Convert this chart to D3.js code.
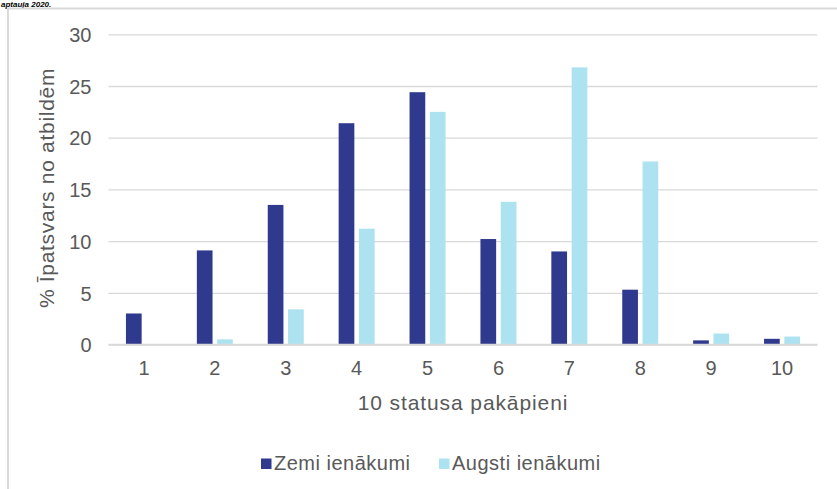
<!DOCTYPE html>
<html>
<head>
<meta charset="utf-8">
<script src="https://cdn.jsdelivr.net/npm/d3@7"></script>
<style>
  html, body { margin: 0; padding: 0; background: #fff; }
  svg { display: block; }
  text { font-family: "Liberation Sans", Arial, sans-serif; }
</style>
</head>
<body>
<svg id="chart" width="837" height="489"></svg>
<script>
const categories = ["1", "2", "3", "4", "5", "6", "7", "8", "9", "10"];
const seriesNames = ["Zemi ienākumi", "Augsti ienākumi"];
const lowIncome  = [3.0, 9.1, 13.5, 21.4, 24.4, 10.2, 9.0, 5.3, 0.4, 0.55];
const highIncome = [0, 0.5, 3.4, 11.2, 22.5, 13.8, 26.8, 17.7, 1.06, 0.77];
const yTicks = [0, 5, 10, 15, 20, 25, 30];
const colors = ["#2F3A8F", "#ADE3F0"];
const titleText = "aptauja 2020.";
const xTitle = "10 statusa pakāpieni";
const yTitle = "% Īpatsvars no atbildēm";

const svg = d3.select("#chart");
const W = 837, H = 489;
const plot = { left: 108.5, right: 817.5, top: 34.3, bottom: 344.5 };

// caption strip at the top (mostly outside the frame in the source)
svg.append("text")
  .attr("x", 1).attr("y", 6.5)
  .attr("font-size", 8).attr("font-style", "italic").attr("font-weight", "bold")
  .attr("fill", "#000")
  .text(titleText);

// chart area border (top & left)
svg.append("path")
  .attr("d", `M8,${H} L8,8.5 L${W},8.5`)
  .attr("fill", "none").attr("stroke", "#d9d9d9").attr("stroke-width", 2);

const x = d3.scaleBand().domain(categories).range([plot.left, plot.right]).padding(0);
const y = d3.scaleLinear().domain([0, 30]).range([plot.bottom, plot.top]);

// gridlines
const yAxis = d3.axisLeft(y).tickValues(yTicks).tickSize(-(plot.right - plot.left)).tickPadding(17).tickFormat(d3.format("d"));
const gy = svg.append("g").attr("transform", `translate(${plot.left},0)`).call(yAxis);
gy.select(".domain").remove();
gy.selectAll(".tick line").attr("stroke", "#d9d9d9").attr("stroke-width", 1.3);
gy.selectAll(".tick text").attr("font-size", 20).attr("fill", "#595959")
  .attr("font-family", "Liberation Sans, Arial, sans-serif").attr("dy", "0.36em");

// bars
const groupW = x.bandwidth() * 0.508;
const xs = d3.scaleBand().domain(seriesNames).range([0, groupW]).paddingInner(0.227).paddingOuter(0);
const data = categories.map((c, i) => ({ cat: c, vals: [lowIncome[i], highIncome[i]] }));

const g = svg.append("g");
data.forEach(d => {
  const x0 = x(d.cat) + (x.bandwidth() - groupW) / 2;
  seriesNames.forEach((s, j) => {
    const v = d.vals[j];
    if (v <= 0) return;
    g.append("rect")
      .attr("x", x0 + xs(s))
      .attr("y", y(v))
      .attr("width", xs.bandwidth())
      .attr("height", y(0) - y(v))
      .attr("fill", colors[j]);
  });
});

// baseline
svg.append("line")
  .attr("x1", plot.left).attr("x2", plot.right)
  .attr("y1", y(0)).attr("y2", y(0))
  .attr("stroke", "#d9d9d9").attr("stroke-width", 1.5);

// x axis labels
const xAxis = d3.axisBottom(x).tickSize(0).tickPadding(16);
const gx = svg.append("g").attr("transform", `translate(0,${plot.bottom})`).call(xAxis);
gx.select(".domain").remove();
gx.selectAll(".tick text").attr("font-size", 20).attr("fill", "#595959")
  .attr("font-family", "Liberation Sans, Arial, sans-serif");

// axis titles
svg.append("text")
  .attr("x", (plot.left + plot.right) / 2).attr("y", 410)
  .attr("text-anchor", "middle").attr("font-size", 21).attr("letter-spacing", 0.9)
  .attr("fill", "#595959").text(xTitle);

svg.append("text")
  .attr("transform", `translate(54,188) rotate(-90)`)
  .attr("text-anchor", "middle").attr("font-size", 21).attr("letter-spacing", 0.7)
  .attr("fill", "#595959").text(yTitle);

// legend
const legendItems = [
  { name: seriesNames[0], color: colors[0], x: 261 },
  { name: seriesNames[1], color: colors[1], x: 439 }
];
const lg = svg.append("g");
legendItems.forEach(it => {
  lg.append("rect").attr("x", it.x).attr("y", 458.5).attr("width", 10.5).attr("height", 10.5).attr("fill", it.color);
  lg.append("text").attr("x", it.x + 13).attr("y", 469.5)
    .attr("font-size", 20).attr("letter-spacing", 0.5)
    .attr("fill", "#595959").text(it.name);
});
</script>
</body>
</html>
